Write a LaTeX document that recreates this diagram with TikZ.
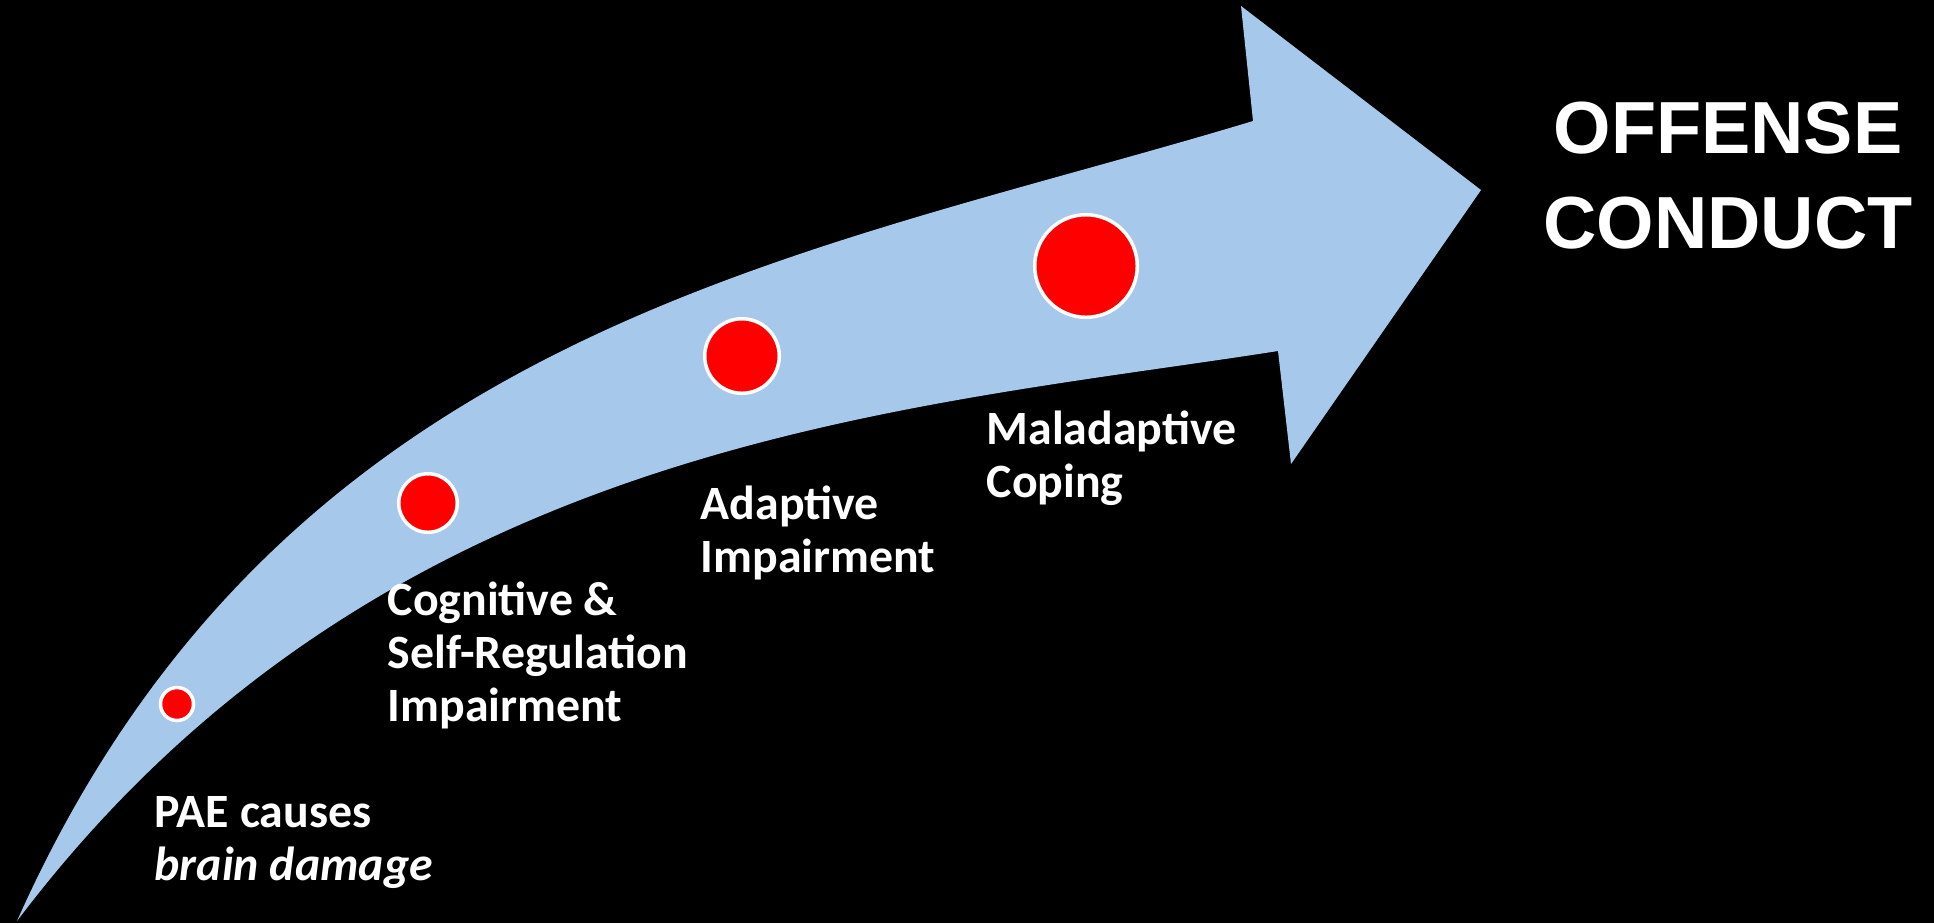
\documentclass[tikz,border=0pt]{standalone}
\usepackage{fontspec}
\setmainfont{Carlito}
\newfontfamily\headfont{Liberation Sans}
\definecolor{arrowblue}{RGB}{166,201,235}
\definecolor{dotred}{RGB}{255,0,0}
\tikzset{
  dot/.style={circle,draw=white,fill=dotred,line width=1pt,inner sep=0pt},
  steplabel/.style={text=white,inner sep=0pt,anchor=base west,align=left,
    font=\fontsize{13.6}{15}\selectfont\bfseries},
}
\begin{document}
\begin{tikzpicture}[x=0.01cm,y=-0.01cm]
          \useasboundingbox[fill=black] (0,0) rectangle (1934,923);
          % outline of the bent arrow
          \coordinate (tail) at (17,921);
          \coordinate (ntop) at (1253,121);
          \coordinate (htop) at (1241,6);
          \coordinate (htip) at (1481,190);
          \coordinate (hbot) at (1291,464);
          \coordinate (nbot) at (1278,351);
          \fill[arrowblue] (tail) .. controls (282,327) and (800,258) .. (ntop)
            -- (htop) -- (htip) -- (hbot) -- (nbot)
            .. controls (900,410) and (380,440) .. (tail) -- cycle;
          % dots along the arrow
          \node[dot,minimum size=3.3mm] (d1) at (177,704) {};
          \node[dot,minimum size=5.85mm] (d2) at (428,503) {};
          \node[dot,minimum size=7.45mm] (d3) at (742,356) {};
          \node[dot,minimum size=10.25mm] (d4) at (1086,266) {};
          % labels, placed by the baseline of their last line
          \node[steplabel] (pae) at (154,880) {PAE causes\\\textit{brain damage}};
          \node[steplabel] (cog) at (387,721) {Cognitive \&\\Self-Regulation\\Impairment};
          \node[steplabel] (adapt) at (700,572) {Adaptive\\Impairment};
          \node[steplabel] (malad) at (986,497) {Maladaptive\\Coping};
          \node[text=white,inner sep=0pt,anchor=base,align=center,
            font=\headfont\fontsize{21}{27}\selectfont\bfseries] (offense) at (1728,248) {OFFENSE\\CONDUCT};
\end{tikzpicture}
\end{document}
